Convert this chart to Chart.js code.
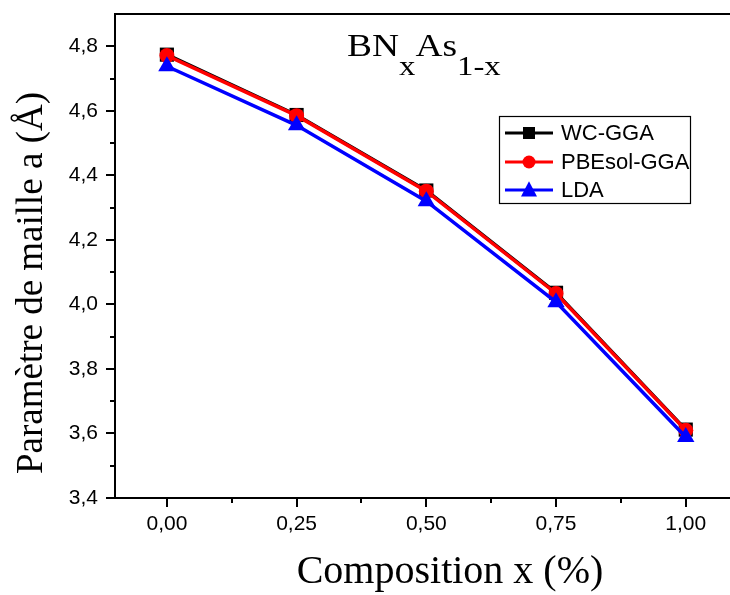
<!DOCTYPE html>
<html>
<head>
<meta charset="utf-8">
<script src="https://cdn.jsdelivr.net/npm/chart.js@4.4.1/dist/chart.umd.min.js"></script>
<style>
html,body{margin:0;padding:0;background:#fff;}
canvas{display:block;}
</style>
</head>
<body>
<canvas id="c" width="730" height="595"></canvas>
<script>
const composition = [0, 0.25, 0.5, 0.75, 1.0];
const wcGGA     = [4.774, 4.587, 4.353, 4.036, 3.612];
const pbesolGGA = [4.771, 4.585, 4.351, 4.034, 3.610];
const lda       = [4.738, 4.555, 4.320, 4.007, 3.589];
const xTickValues = [0, 0.25, 0.5, 0.75, 1.0];
const xTickLabels = ['0,00', '0,25', '0,50', '0,75', '1,00'];
const yTickValues = [3.4, 3.6, 3.8, 4.0, 4.2, 4.4, 4.6, 4.8];
const yTickLabels = ['3,4', '3,6', '3,8', '4,0', '4,2', '4,4', '4,6', '4,8'];
const xMinorValues = [0.125, 0.375, 0.625, 0.875];
const yMinorValues = [3.5, 3.7, 3.9, 4.1, 4.3, 4.5, 4.7];
const seriesNames = ['WC-GGA', 'PBEsol-GGA', 'LDA'];

function pts(vals){ return composition.map((x,i)=>({x:x, y:vals[i]})); }

const legendStyles = [
  {color:'#000000', shape:'rect', size:12},
  {color:'#ff0000', shape:'circle', size:13},
  {color:'#0000ff', shape:'triangle', size:16}
];

const overlay = {
  id:'overlay',
  afterDraw(chart){
    const ctx = chart.ctx, a = chart.chartArea, xs = chart.scales.x, ys = chart.scales.y;
    const W = chart.width;
    ctx.save();
    ctx.strokeStyle = '#000'; ctx.lineWidth = 2;
    ctx.beginPath();
    ctx.moveTo(a.left-1, a.top); ctx.lineTo(W, a.top);
    ctx.moveTo(a.right-1, a.bottom); ctx.lineTo(W, a.bottom);
    yMinorValues.forEach(v=>{ const p = Math.round(ys.getPixelForValue(v)); ctx.moveTo(a.left, p); ctx.lineTo(a.left-5, p); });
    xMinorValues.forEach(v=>{ const p = Math.round(xs.getPixelForValue(v)); ctx.moveTo(p, a.bottom); ctx.lineTo(p, a.bottom+5); });
    ctx.stroke();

    // chart title with subscripts
    ctx.fillStyle = '#000';
    ctx.textBaseline = 'alphabetic';
    ctx.textAlign = 'left';
    ctx.save();
    ctx.translate(347, 56);
    ctx.scale(1.17, 1);
    let x = 0;
    const big = '32px "Liberation Serif", "Times New Roman", serif';
    const sub = '28px "Liberation Serif", "Times New Roman", serif';
    const parts = [['BN',big,0],['x',sub,19],['As',big,0],['1-x',sub,19]];
    parts.forEach(p=>{ ctx.font = p[1]; ctx.fillText(p[0], x, p[2]); x += ctx.measureText(p[0]).width; });
    ctx.restore();

    // axis titles
    ctx.font = '40px "Liberation Serif", "Times New Roman", serif';
    ctx.textAlign = 'center';
    ctx.fillText('Composition x (%)', 450, 583);
    ctx.save();
    ctx.translate(42, 283);
    ctx.rotate(-Math.PI/2);
    ctx.font = '37px "Liberation Serif", "Times New Roman", serif';
    ctx.fillText('Paramètre de maille a (Å)', 0, 0);
    ctx.restore();

    // legend
    const lx = 499, ly = 116, lw = 191, lh = 87;
    ctx.lineWidth = 1.2; ctx.strokeStyle = '#000';
    ctx.strokeRect(lx + 0.5, ly + 0.5, lw, lh);
    const rows = [133, 162, 190];
    ctx.font = '22px "Liberation Sans", Arial, sans-serif';
    ctx.textAlign = 'left'; ctx.textBaseline = 'middle';
    seriesNames.forEach((name, i)=>{
      const st = legendStyles[i], cy = rows[i];
      ctx.strokeStyle = st.color; ctx.fillStyle = st.color; ctx.lineWidth = 3;
      ctx.beginPath(); ctx.moveTo(505, cy); ctx.lineTo(553, cy); ctx.stroke();
      ctx.beginPath();
      const cx = 529, s = st.size;
      if (st.shape === 'rect') ctx.rect(cx - s/2, cy - s/2, s, s);
      else if (st.shape === 'circle') ctx.arc(cx, cy, s/2, 0, Math.PI*2);
      else { ctx.moveTo(cx, cy - s*0.55); ctx.lineTo(cx + s/2, cy + s*0.4); ctx.lineTo(cx - s/2, cy + s*0.4); ctx.closePath(); }
      ctx.fill();
      ctx.fillStyle = '#000';
      ctx.fillText(name, 561, cy + 1);
    });
    ctx.restore();
  }
};

const tickFont = {family:'"Liberation Sans Narrow", "Arial Narrow", "Liberation Sans", Arial, sans-serif', size:21};

new Chart(document.getElementById('c'), {
  type:'line',
  data:{
    datasets:[
      {label:seriesNames[0], data:pts(wcGGA), borderColor:'#000', backgroundColor:'#000', borderWidth:3.5,
       pointStyle:'rect', pointRadius:10, pointBorderWidth:0, order:3},
      {label:seriesNames[1], data:pts(pbesolGGA), borderColor:'#ff0000', backgroundColor:'#ff0000', borderWidth:3.5,
       pointStyle:'circle', pointRadius:7.5, pointBorderWidth:0, order:2},
      {label:seriesNames[2], data:pts(lda), borderColor:'#0000ff', backgroundColor:'#0000ff', borderWidth:3.5,
       pointStyle:'triangle', pointRadius:10, pointBorderWidth:0, order:1}
    ]
  },
  options:{
    responsive:false, animation:false, devicePixelRatio:1,
    layout:{padding:{top:14, right:0, left:0, bottom:0}},
    plugins:{legend:{display:false}, tooltip:{enabled:false}, title:{display:false}},
    elements:{line:{tension:0}},
    scales:{
      x:{
        type:'linear', min:-0.1, max:1.066,
        afterBuildTicks(s){ s.ticks = xTickValues.map(v=>({value:v})); },
        afterFit(s){ s.height = 97; s.paddingLeft = 0; s.paddingRight = 0; },
        ticks:{color:'#000', font:tickFont, padding:5, maxRotation:0, autoSkip:false,
               callback(v){ const i = xTickValues.indexOf(v); return i>=0 ? xTickLabels[i] : ''; }},
        grid:{drawOnChartArea:false, drawTicks:true, tickLength:9, color:'#000', lineWidth:2},
        border:{display:true, color:'#000', width:2}
      },
      y:{
        type:'linear', min:3.4, max:4.9,
        afterBuildTicks(s){ s.ticks = yTickValues.map(v=>({value:v})); },
        afterFit(s){ s.width = 115; s.paddingTop = 0; s.paddingBottom = 0; },
        ticks:{color:'#000', font:tickFont, padding:8, autoSkip:false,
               callback(v){ const i = yTickValues.findIndex(t=>Math.abs(t-v)<1e-9); return i>=0 ? yTickLabels[i] : ''; }},
        grid:{drawOnChartArea:false, drawTicks:true, tickLength:9, color:'#000', lineWidth:2},
        border:{display:true, color:'#000', width:2}
      }
    }
  },
  plugins:[overlay]
});
</script>
</body>
</html>
